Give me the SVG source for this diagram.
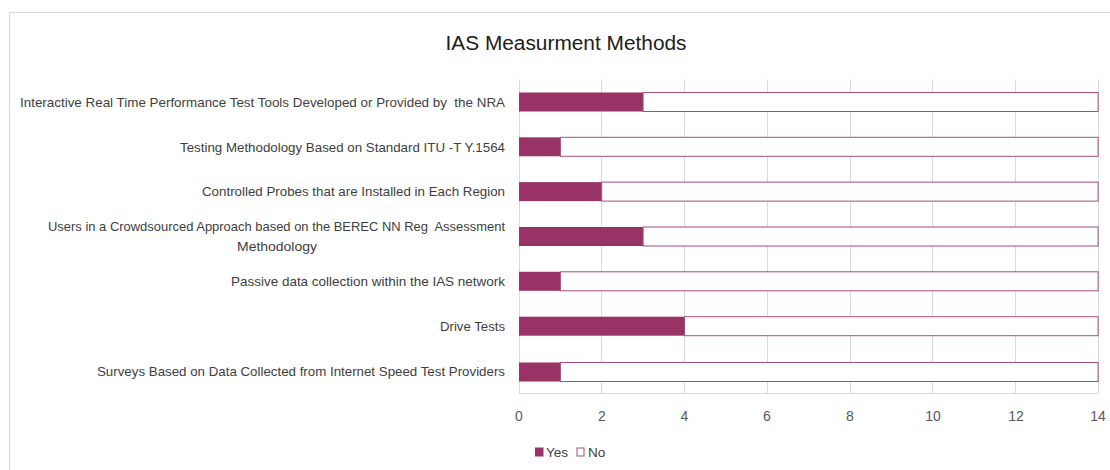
<svg xmlns="http://www.w3.org/2000/svg" width="1110" height="470" viewBox="0 0 1110 470">
<style>
.lbl{font-family:"Liberation Sans",Arial,sans-serif;font-size:13px;fill:#404040;text-anchor:end;white-space:pre}
.tick{font-family:"Liberation Sans",Arial,sans-serif;font-size:14px;fill:#595959;text-anchor:middle}
.leg{font-family:"Liberation Sans",Arial,sans-serif;font-size:13.5px;fill:#404040}
.grid{stroke:#d9d9d9;stroke-width:1}
.yes{fill:#993366}
.no{fill:#ffffff;stroke:#a94b7c;stroke-width:1}
</style>
<rect x="0" y="0" width="1110" height="470" fill="#ffffff"/>
<rect x="9.5" y="12.5" width="1120" height="480" fill="#ffffff" stroke="#d9d9d9" stroke-width="1"/>
<text x="566" y="50" font-family="Liberation Sans,Arial,sans-serif" font-size="20" fill="#202020" text-anchor="middle" textLength="241" lengthAdjust="spacingAndGlyphs">IAS Measurment Methods</text>
<g id="grid">
<line class="grid" x1="519.5" y1="79.5" x2="519.5" y2="393.5"/>
<line class="grid" x1="601.5" y1="79.5" x2="601.5" y2="393.5"/>
<line class="grid" x1="684.5" y1="79.5" x2="684.5" y2="393.5"/>
<line class="grid" x1="767.5" y1="79.5" x2="767.5" y2="393.5"/>
<line class="grid" x1="850.5" y1="79.5" x2="850.5" y2="393.5"/>
<line class="grid" x1="932.5" y1="79.5" x2="932.5" y2="393.5"/>
<line class="grid" x1="1015.5" y1="79.5" x2="1015.5" y2="393.5"/>
<line class="grid" x1="1098.5" y1="79.5" x2="1098.5" y2="393.5"/>
<line class="grid" x1="519" y1="393.5" x2="1098.5" y2="393.5"/>
</g>
<g id="ticks">
<text class="tick" x="519" y="421">0</text>
<text class="tick" x="602" y="421">2</text>
<text class="tick" x="684.5" y="421">4</text>
<text class="tick" x="767" y="421">6</text>
<text class="tick" x="850" y="421">8</text>
<text class="tick" x="933" y="421">10</text>
<text class="tick" x="1016" y="421">12</text>
<text class="tick" x="1098" y="421">14</text>
</g>
<g id="row1">
<text class="lbl" xml:space="preserve" x="505" y="106.5" textLength="485" lengthAdjust="spacingAndGlyphs">Interactive Real Time Performance Test Tools Developed or Provided by  the NRA</text>
<rect class="yes" x="519" y="92.5" width="124.1" height="19"/>
<rect class="no" x="643.1" y="92.5" width="455" height="19"/>
</g>
<g id="row2">
<text class="lbl" x="505" y="151.5" textLength="325" lengthAdjust="spacingAndGlyphs">Testing Methodology Based on Standard ITU -T Y.1564</text>
<rect class="yes" x="519" y="137.3" width="41.4" height="19"/>
<rect class="no" x="560.4" y="137.3" width="537.7" height="19"/>
</g>
<g id="row3">
<text class="lbl" x="505" y="196.3" textLength="303" lengthAdjust="spacingAndGlyphs">Controlled Probes that are Installed in Each Region</text>
<rect class="yes" x="519" y="182.1" width="82.7" height="19"/>
<rect class="no" x="601.7" y="182.1" width="496.4" height="19"/>
</g>
<g id="row4">
<text class="lbl" xml:space="preserve" x="505" y="231" textLength="457" lengthAdjust="spacingAndGlyphs">Users in a Crowdsourced Approach based on the BEREC NN Reg  Assessment</text>
<text class="lbl" x="317" y="251" textLength="80" lengthAdjust="spacingAndGlyphs">Methodology</text>
<rect class="yes" x="519" y="227" width="124.1" height="19"/>
<rect class="no" x="643.1" y="227" width="455" height="19"/>
</g>
<g id="row5">
<text class="lbl" x="505" y="286" textLength="274" lengthAdjust="spacingAndGlyphs">Passive data collection within the IAS network</text>
<rect class="yes" x="519" y="271.8" width="41.4" height="19"/>
<rect class="no" x="560.4" y="271.8" width="537.7" height="19"/>
</g>
<g id="row6">
<text class="lbl" x="505" y="331" textLength="65" lengthAdjust="spacingAndGlyphs">Drive Tests</text>
<rect class="yes" x="519" y="316.7" width="165.5" height="19"/>
<rect class="no" x="684.5" y="316.7" width="413.6" height="19"/>
</g>
<g id="row7">
<text class="lbl" x="505" y="376" textLength="408" lengthAdjust="spacingAndGlyphs">Surveys Based on Data Collected from Internet Speed Test Providers</text>
<rect class="yes" x="519" y="362.5" width="41.4" height="19"/>
<rect class="no" x="560.4" y="362.5" width="537.7" height="19"/>
</g>
<g id="legend">
<rect class="yes" x="535" y="447.5" width="8.5" height="9"/>
<text class="leg" x="546" y="456.5">Yes</text>
<rect class="no" x="577" y="448" width="7" height="8"/>
<text class="leg" x="588" y="456.5">No</text>
</g>
</svg>
